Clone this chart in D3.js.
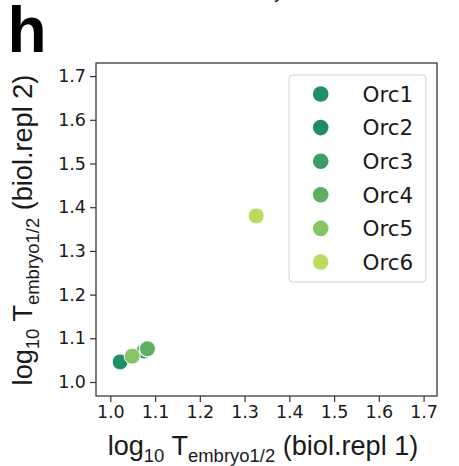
<!DOCTYPE html>
<html>
<head>
<meta charset="utf-8">
<script src="https://cdn.jsdelivr.net/npm/d3@7/dist/d3.min.js"></script>
<style>
  html, body { margin: 0; padding: 0; background: #fff; }
  svg { display: block; }
</style>
</head>
<body>
<div id="chart"></div>
<script>
// Orc subunit half-lives, biological replicate 1 vs replicate 2 (log10 scale)
const genes  = ["Orc1", "Orc2", "Orc3", "Orc4", "Orc5", "Orc6"];
const repl1  = [1.022, 1.076, 1.082, 1.083, 1.049, 1.326];
const repl2  = [1.046, 1.071, 1.075, 1.076, 1.059, 1.380];
const colors = ["#219066", "#1f8d64", "#3d9e63", "#5eaf62", "#88c462", "#b9dc5c"];
const ticks  = [1.0, 1.1, 1.2, 1.3, 1.4, 1.5, 1.6, 1.7];
const axisLimits = [0.968, 1.730];

const W = 459, H = 466;
const plot = { left: 96, right: 437, top: 63, bottom: 396 };

const svg = d3.select("#chart").append("svg")
  .attr("width", W).attr("height", H);

const x = d3.scaleLinear().domain(axisLimits).range([plot.left, plot.right]);
const y = d3.scaleLinear().domain(axisLimits).range([plot.bottom, plot.top]);
const color = d3.scaleOrdinal().domain(genes).range(colors);

// cut-off line of a heading above the panel
svg.append("text")
  .attr("x", 274).attr("y", -2)
  .attr("font-family", "Liberation Sans, Arial, sans-serif")
  .attr("font-size", 20).attr("fill", "#222")
  .text("y");

// panel letter
svg.append("text")
  .attr("x", 7.5).attr("y", 52)
  .attr("font-family", "Liberation Sans, Arial, sans-serif")
  .attr("font-weight", "bold")
  .attr("font-size", 64).attr("fill", "#000")
  .text("h");

const tickFont = "DejaVu Sans, sans-serif";

// x axis
const xAxis = svg.append("g")
  .attr("transform", `translate(0,${plot.bottom})`)
  .call(d3.axisBottom(x).tickValues(ticks).tickFormat(d3.format(".1f"))
    .tickSize(6).tickPadding(4).tickSizeOuter(0));
// y axis
const yAxis = svg.append("g")
  .attr("transform", `translate(${plot.left},0)`)
  .call(d3.axisLeft(y).tickValues(ticks).tickFormat(d3.format(".1f"))
    .tickSize(6).tickPadding(4).tickSizeOuter(0));

[xAxis, yAxis].forEach(g => {
  g.select(".domain").remove();
  g.selectAll(".tick line").attr("stroke", "#333").attr("stroke-width", 1.2);
  g.selectAll(".tick text")
    .attr("font-family", tickFont).attr("font-size", 17.5).attr("fill", "#1a1a1a");
});

// axes frame
svg.append("rect")
  .attr("x", plot.left).attr("y", plot.top)
  .attr("width", plot.right - plot.left).attr("height", plot.bottom - plot.top)
  .attr("fill", "none").attr("stroke", "#3a3a3a").attr("stroke-width", 1.3);

// data points
svg.append("g").selectAll("circle")
  .data(genes.map((g, i) => ({ gene: g, a: repl1[i], b: repl2[i] })))
  .join("circle")
  .attr("cx", d => x(d.a)).attr("cy", d => y(d.b))
  .attr("r", 8)
  .attr("fill", d => color(d.gene))
  .attr("stroke", "#fff").attr("stroke-width", 1);

// legend
const legend = svg.append("g");
legend.append("rect")
  .attr("x", 289).attr("y", 75).attr("width", 137).attr("height", 207)
  .attr("rx", 4).attr("fill", "#fff").attr("fill-opacity", 0.85)
  .attr("stroke", "#d0d0d0").attr("stroke-width", 1);
const item = legend.selectAll("g.item").data(genes).join("g")
  .attr("class", "item")
  .attr("transform", (d, i) => `translate(0,${94 + i * 33.6})`);
item.append("circle")
  .attr("cx", 320.7).attr("cy", 0).attr("r", 7.8)
  .attr("fill", d => color(d));
item.append("text")
  .attr("x", 362.5).attr("y", 0).attr("dy", "0.36em")
  .attr("font-family", tickFont).attr("font-size", 21.5).attr("fill", "#1a1a1a")
  .text(d => d);

// axis titles: log10 T_embryo1/2 (biol.repl n)
function axisTitle(sel, repl, width) {
  const base = 25, sub = 17;
  sel.attr("font-family", "Liberation Sans, Arial, sans-serif")
     .attr("font-size", base).attr("fill", "#1a1a1a")
     .attr("text-anchor", "middle");
  sel.append("tspan").text("log");
  sel.append("tspan").attr("font-size", sub).attr("dy", 6).text("10");
  sel.append("tspan").attr("dy", -6).text(" T");
  sel.append("tspan").attr("font-size", sub).attr("dy", 6).text("embryo1/2");
  sel.append("tspan").attr("dy", -6).text(` (biol.repl ${repl})`);
  const len = sel.node().getComputedTextLength();
  const k = width / len;
  sel.attr("font-size", base * k);
  sel.selectAll("tspan").each(function () {
    const t = d3.select(this);
    if (t.attr("font-size")) t.attr("font-size", sub * k);
    if (t.attr("dy")) t.attr("dy", +t.attr("dy") * k);
  });
}

svg.append("text")
  .attr("transform", "translate(263,455)")
  .call(axisTitle, 1, 311);

svg.append("text")
  .attr("transform", "translate(32,230) rotate(-90)")
  .call(axisTitle, 2, 311);
</script>
</body>
</html>
